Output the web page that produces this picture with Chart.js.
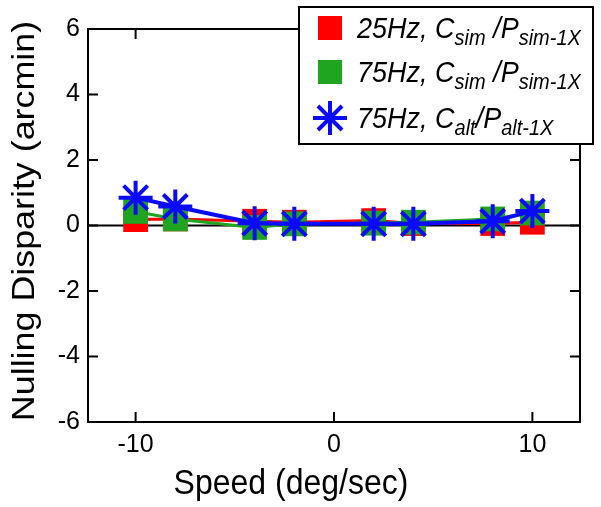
<!DOCTYPE html>
<html>
<head>
<meta charset="utf-8">
<script src="https://cdn.jsdelivr.net/npm/chart.js@4/dist/chart.umd.min.js"></script>
<style>
  body { margin: 0; background: #fff; }
  #wrap { width: 601px; height: 507px; }
</style>
</head>
<body>
<div id="wrap"><canvas id="nullingCanvas" width="601" height="507"></canvas></div>
<script>
// speeds (deg/sec) and nulling disparity (arcmin)
var speeds = [-10, -8, -4, -2, 2, 4, 8, 10];
var red25Sim = [0.18, 0.2, 0.13, 0.1, 0.15, 0.06, 0.06, 0.1];
var green75Sim = [0.43, 0.2, -0.06, 0.05, 0.07, 0.1, 0.2, 0.38];
var blue75Alt = [0.85, 0.58, 0.07, 0.05, 0.05, 0.05, 0.13, 0.44];

var xTicks = [-10, 0, 10];
var yTicks = [-6, -4, -2, 0, 2, 4, 6];
var xTitle = "Speed (deg/sec)";
var yTitle = "Nulling Disparity (arcmin)";

// legend text pieces: [text, isSubscript]
var legendLabels = [
    [["25Hz, C", 0], ["sim", 1], [" /P", 0], ["sim-1X", 1]],
    [["75Hz, C", 0], ["sim", 1], [" /P", 0], ["sim-1X", 1]],
    [["75Hz, C", 0], ["alt", 1], ["/P", 0], ["alt-1X", 1]]
];

var RED = "#ff0000";
var GREEN = "#1fa51f";
var BLUE = "#0a0aff";
var FONT = "'Liberation Sans', Arial, sans-serif";

function toPoints(ys){
    var pts = [];
    for(var i = 0; i < speeds.length; i++){
        pts.push({x: speeds[i], y: ys[i]});
    }
    return pts;
}

function drawStar(ctx, x, y, r){
    ctx.beginPath();
    for(var k = 0; k < 4; k++){
        var a = k * Math.PI / 4;
        ctx.moveTo(x - Math.cos(a) * r, y - Math.sin(a) * r);
        ctx.lineTo(x + Math.cos(a) * r, y + Math.sin(a) * r);
    }
    ctx.stroke();
}

function tallText(ctx, txt, x, y, sy){
    ctx.save();
    ctx.translate(x, y);
    ctx.scale(1, sy);
    ctx.fillText(txt, 0, 0);
    ctx.restore();
}

var framePlugin = {
    id: 'framePlugin',
    beforeDatasetsDraw: function(chart){
        var ctx = chart.ctx;
        var area = chart.chartArea;
        var y0 = chart.scales.y.getPixelForValue(0);
        ctx.save();
        ctx.strokeStyle = "#000";
        ctx.lineWidth = 2;
        ctx.beginPath();
        ctx.moveTo(area.left, y0);
        ctx.lineTo(area.right, y0);
        ctx.stroke();
        ctx.restore();
    },
    afterDraw: function(chart){
        var ctx = chart.ctx;
        var area = chart.chartArea;
        var xs = chart.scales.x;
        var ys = chart.scales.y;
        var tick = 10;
        ctx.save();
        ctx.strokeStyle = "#000";
        ctx.lineWidth = 2;
        ctx.strokeRect(area.left, area.top, area.right - area.left, area.bottom - area.top);

        // inward ticks on all four sides
        ctx.beginPath();
        xTicks.forEach(function(v){
            var px = xs.getPixelForValue(v);
            ctx.moveTo(px, area.bottom); ctx.lineTo(px, area.bottom - tick);
            ctx.moveTo(px, area.top); ctx.lineTo(px, area.top + tick);
        });
        yTicks.forEach(function(v){
            var py = ys.getPixelForValue(v);
            ctx.moveTo(area.left, py); ctx.lineTo(area.left + tick, py);
            ctx.moveTo(area.right, py); ctx.lineTo(area.right - tick, py);
        });
        ctx.stroke();

        // axis titles
        ctx.fillStyle = "#000";
        ctx.font = "32px " + FONT;
        ctx.textAlign = "center";
        ctx.textBaseline = "alphabetic";
        tallText(ctx, xTitle, 291, 494, 1.1);

        ctx.save();
        ctx.translate(34, 221);
        ctx.rotate(-Math.PI / 2);
        ctx.scale(1.12, 1);
        ctx.fillText(yTitle, 0, 0);
        ctx.restore();

        // legend box
        var bx = 299, by = 7, bw = 294, bh = 137;
        ctx.fillStyle = "#fff";
        ctx.fillRect(bx, by, bw, bh);
        ctx.strokeRect(bx, by, bw, bh);

        var rowY = [28, 72, 118];
        var mx = 330;
        ctx.fillStyle = RED;
        ctx.fillRect(mx - 12, rowY[0] - 12, 24, 24);
        ctx.fillStyle = GREEN;
        ctx.fillRect(mx - 12, rowY[1] - 12, 24, 24);
        ctx.strokeStyle = BLUE;
        ctx.lineWidth = 4;
        drawStar(ctx, mx, rowY[2], 17);

        ctx.fillStyle = "#000";
        ctx.textAlign = "left";
        for(var r = 0; r < legendLabels.length; r++){
            var tx = 357;
            var base = rowY[r] + 10;
            legendLabels[r].forEach(function(part){
                if(part[1]){
                    ctx.font = "italic 20px " + FONT;
                    tallText(ctx, part[0], tx, base + 7, 1.08);
                }else{
                    ctx.font = "italic 27px " + FONT;
                    tallText(ctx, part[0], tx, base, 1.08);
                }
                tx += ctx.measureText(part[0]).width;
            });
        }
        ctx.restore();
    }
};

var config = {
    type: 'line',
    data: {
        datasets: [{
            label: '25Hz Csim/Psim-1X',
            data: toPoints(red25Sim),
            borderColor: RED,
            backgroundColor: RED,
            borderWidth: 3,
            pointStyle: 'rect',
            pointRadius: 17.5,
            pointBorderWidth: 0,
            order: 3
        },{
            label: '75Hz Csim/Psim-1X',
            data: toPoints(green75Sim),
            borderColor: GREEN,
            backgroundColor: GREEN,
            borderWidth: 3,
            pointStyle: 'rect',
            pointRadius: 17.5,
            pointBorderWidth: 0,
            order: 2
        },{
            label: '75Hz Calt/Palt-1X',
            data: toPoints(blue75Alt),
            borderColor: BLUE,
            backgroundColor: BLUE,
            borderWidth: 4,
            pointStyle: 'star',
            pointRadius: 17,
            pointBorderWidth: 4,
            pointBorderColor: BLUE,
            order: 1
        }]
    },
    options: {
        responsive: false,
        animation: false,
        layout: { padding: { top: 29, right: 21, left: 0, bottom: 0 } },
        plugins: {
            legend: { display: false },
            tooltip: { enabled: false }
        },
        scales: {
            x: {
                type: 'linear',
                min: -12.4,
                max: 12.4,
                grid: { display: false, drawTicks: false },
                border: { display: false },
                ticks: { color: "#000", font: { family: FONT, size: 25 }, padding: 8 },
                afterBuildTicks: function(scale){
                    scale.ticks = xTicks.map(function(v){ return {value: v}; });
                },
                afterFit: function(scale){ scale.height = 85; }
            },
            y: {
                type: 'linear',
                min: -6,
                max: 6,
                grid: { display: false, drawTicks: false },
                border: { display: false },
                ticks: { color: "#000", font: { family: FONT, size: 25 }, padding: 8 },
                afterBuildTicks: function(scale){
                    scale.ticks = yTicks.map(function(v){ return {value: v}; });
                },
                afterFit: function(scale){ scale.width = 88; }
            }
        }
    },
    plugins: [framePlugin]
};

new Chart(document.getElementById('nullingCanvas'), config);
</script>
</body>
</html>
